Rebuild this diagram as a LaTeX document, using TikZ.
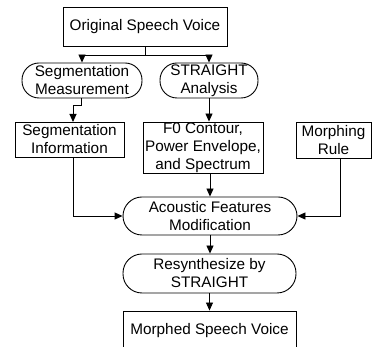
\documentclass[tikz,border=0pt]{standalone}
\usepackage{fontspec}
\setmainfont{Liberation Sans}
\usepackage{tikz}
\usetikzlibrary{arrows.meta}

\tikzset{
  flowbox/.style={draw, rectangle, line width=0.9pt, align=center, inner sep=0pt},
  flowterm/.style={draw, rectangle, rounded corners=17pt, line width=0.9pt, align=center, inner sep=0pt},
  flowarr/.style={line width=0.9pt, -{Triangle[length=8pt,width=7pt]}}
}

\begin{document}
\begin{tikzpicture}[x=1pt, y=-1pt, font=\fontsize{15.3}{18}\selectfont]
  \useasboundingbox (0,0) rectangle (373,347);
  \clip (0,0) rectangle (373,347);

  \node[flowbox, minimum width=164pt, minimum height=39pt] (orig) at (145,26.5) {Original Speech Voice};

  \node[flowterm, minimum width=120pt, minimum height=35pt] (segm) at (82,80.5) {Segmentation\\Measurement};
  \node[flowterm, minimum width=98pt, minimum height=35pt] (strana) at (209,80.5) {STRAIGHT\\Analysis};

  \node[flowbox, minimum width=109pt, minimum height=35pt] (seginfo) at (69.5,139.5) {Segmentation\\Information};
  \node[flowbox, minimum width=120pt, minimum height=51pt] (params) at (203,147.5) {F0 Contour,\\Power Envelope,\\and Spectrum};
  \node[flowbox, minimum width=75pt, minimum height=36pt] (rule) at (333.5,140.5) {Morphing\\Rule};

  \node[flowterm, rounded corners=19pt, minimum width=174pt, minimum height=38pt] (modif) at (210,216) {Acoustic Features\\Modification};
  \node[flowterm, rounded corners=19pt, minimum width=173pt, minimum height=39pt] (resyn) at (209.5,273.5) {Resynthesize by\\STRAIGHT};
  \node[flowbox, minimum width=173pt, minimum height=39pt] (morphed) at (209.5,330.5) {Morphed Speech Voice};

  % split below the original voice
  \coordinate (split) at (145,55);
  \draw[line width=0.9pt] (orig.south) -- (split);
  \draw[flowarr] (split) -| (segm.north);
  \draw[flowarr] (split) -| (strana.north);

  % inputs of the modification step
  \coordinate (siIn) at (73,122);
  \coordinate (siOut) at (73,157);
  \coordinate (ruleOut) at (340,158);
  \draw[flowarr] ([xshift=-1pt]segm.south) -- ++(0,7) -| (siIn);
  \draw[flowarr] (strana.south) -- (strana.south |- params.north);
  \draw[flowarr] (siOut) |- (modif.west);
  \draw[flowarr] (modif.north |- params.south) -- (modif.north);
  \draw[flowarr] (ruleOut) |- (modif.east);

  \draw[flowarr] (modif.south) -- (modif.south |- resyn.north);
  \draw[flowarr] (resyn.south) -- (resyn.south |- morphed.north);
\end{tikzpicture}
\end{document}
